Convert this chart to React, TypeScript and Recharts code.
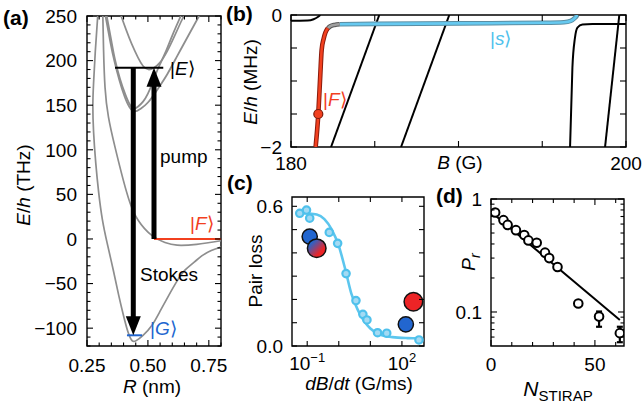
import React from 'react';
import {
  LineChart, ComposedChart, Line, Scatter, XAxis, YAxis,
  ReferenceLine, ReferenceDot, ReferenceArea, ErrorBar,
} from 'recharts';

const FONT = '"Liberation Sans", Arial, Helvetica, sans-serif';
const FS = 19;
const GRAY = '#8e8e8e';
const RED = '#f2401f';
const CYAN = '#4fc1ec';
const BLUE = '#2266cf';

type P = [number, number];
type Lab = [number, React.ReactNode];
const pts = (a: P[]) => a.map(([x, y]) => ({ x, y }));

// ---- (a) potential curves, R (nm) vs E/h (THz)
const curveX: P[] = [
  [0.294, 250], [0.284, 210], [0.277, 175], [0.274, 150], [0.277, 120], [0.286, 85],
  [0.298, 52], [0.313, 22], [0.333, -5], [0.358, -35], [0.38, -63], [0.4, -86],
  [0.418, -104], [0.435, -114], [0.452, -114], [0.48, -108], [0.516, -97], [0.55, -81],
  [0.584, -64], [0.62, -47], [0.652, -35], [0.69, -26], [0.721, -19], [0.76, -13], [0.8, -9],
];
const curveA3: P[] = [
  [0.315, 250], [0.318, 212], [0.324, 170], [0.338, 137], [0.365, 103], [0.399, 66],
  [0.426, 41], [0.46, 21], [0.516, 4], [0.57, -4], [0.62, -7], [0.7, -6], [0.8, -2],
];
const curveB1: P[] = [
  [0.331, 250], [0.35, 222], [0.365, 201], [0.385, 180], [0.406, 163], [0.425, 151],
  [0.442, 146], [0.46, 148.5], [0.48, 154], [0.5, 163], [0.52, 176], [0.54, 190],
  [0.57, 208], [0.6, 228], [0.635, 250],
];
const curveB2: P[] = [
  [0.326, 250], [0.345, 222], [0.362, 200], [0.383, 178], [0.404, 160], [0.424, 148],
  [0.446, 143], [0.47, 146], [0.5, 153], [0.54, 168], [0.58, 185], [0.62, 205],
  [0.66, 225], [0.71, 250],
];
const curveE: P[] = [
  [0.39, 250], [0.41, 235], [0.433, 219], [0.46, 203], [0.48, 194], [0.502, 190],
  [0.525, 192], [0.55, 198], [0.58, 211], [0.61, 228], [0.635, 243], [0.648, 250],
];
const levelE = 192;
const levelF = 0;
const levelG = -108;
const levelERange = [0.365, 0.563];
const levelFRange = [0.525, 0.8];
const levelGRange = [0.414, 0.476];
const stokesR = 0.44;
const pumpR = 0.525;

const aXTicks = [0.25, 0.3, 0.35, 0.4, 0.45, 0.5, 0.55, 0.6, 0.65, 0.7, 0.75, 0.8];
const aXMajor = [0.25, 0.5, 0.75];
const aXLabels: Lab[] = [[0.25, '0.25'], [0.5, '0.50'], [0.75, '0.75']];
const aYTicks = [
  -120, -110, -100, -90, -80, -70, -60, -50, -40, -30, -20, -10, 0, 10, 20, 30, 40, 50,
  60, 70, 80, 90, 100, 110, 120, 130, 140, 150, 160, 170, 180, 190, 200, 210, 220, 230, 240, 250,
];
const aYMajor = [-100, -50, 0, 50, 100, 150, 200, 250];
const aYLabels: Lab[] = [
  [-100, '\u2212100'], [-50, '\u221250'], [0, '0'], [50, '50'],
  [100, '100'], [150, '150'], [200, '200'], [250, '250'],
];

// ---- (b) levels near threshold, B (G) vs E/h (MHz)
const bTopLeft: P[] = [[180, -0.086], [181.0, -0.085], [181.35, -0.065], [181.6, -0.03], [181.75, 0]];
const bRedF: P[] = [
  [181.47, -2], [181.63, -1.5], [181.75, -0.9], [181.83, -0.53], [181.95, -0.36],
  [182.05, -0.27], [182.2, -0.2],
];
const bGrayMid: P[] = [[182.2, -0.2], [182.35, -0.17], [182.6, -0.15], [182.9, -0.14]];
const bBlueS: P[] = [
  [182.9, -0.14], [185, -0.135], [190, -0.127], [195, -0.118], [196.3, -0.11],
  [196.7, -0.09], [196.95, -0.045], [197.1, 0],
];
const bDiag1: P[] = [[182.39, -2], [185.27, 0]];
const bDiag2: P[] = [[186.57, -2], [189.45, 0]];
const bRightBend: P[] = [
  [196.66, -2], [196.8, -0.8], [196.95, -0.35], [197.1, -0.19], [197.4, -0.145],
  [198, -0.138], [200, -0.136],
];
const bRightSteep: P[] = [[198.75, -2], [199.6, 0]];
const bDotF = { x: 181.63, y: -1.5 };

const bXTicks = [180, 185, 190, 195, 200];
const bXLabels: Lab[] = [[180, '180'], [200, '200']];
const bYTicks = [0, -0.5, -1, -1.5, -2];
const bYLabels: Lab[] = [[0, '0'], [-2, '\u22122']];

// ---- (c) pair loss vs ramp rate
const cRate = [0.058, 0.095, 0.12, 0.5, 0.92, 1.7, 3.5, 5.8, 7.8, 16.9, 33, 347];
const cLoss = [0.57, 0.584, 0.549, 0.488, 0.441, 0.311, 0.195, 0.136, 0.112, 0.057, 0.055, 0.026];
const cFitRate = [0.045, 0.1, 0.2, 0.35, 0.6, 1.0, 1.6, 2.5, 4, 6.5, 10, 20, 50, 150, 380];
const cFitLoss = [0.572, 0.57, 0.565, 0.545, 0.5, 0.43, 0.33, 0.225, 0.155, 0.105, 0.075, 0.049, 0.038, 0.034, 0.033];
const bigRate = [0.12, 0.2, 133, 231];
const bigLoss = [0.47, 0.42, 0.093, 0.19];
const bigKind = ['blue', 'mix', 'blue', 'red'];

const cXTicks = [0.1, 1, 10, 100];
const sup = (e: string) => (
  <>10<tspan dy={-8} fontSize={13}>{e}</tspan></>
);
const cXLabels: Lab[] = [[0.1, sup('\u22121')], [100, sup('2')]];
const cYTicks = [0, 0.1, 0.2, 0.3, 0.4, 0.5, 0.6];
const cYLabels: Lab[] = [[0, '0.0'], [0.6, '0.6']];

// ---- (d) survival vs number of STIRAP transfers
const nStirap = [2, 6, 8, 12, 16, 18, 22, 26, 28, 32, 42, 52, 62];
const pr = [0.76, 0.65, 0.59, 0.53, 0.48, 0.43, 0.41, 0.335, 0.3, 0.25, 0.119, 0.091, 0.065];
const prErrLo = [0, 0, 0, 0, 0, 0, 0, 0, 0, 0, 0, 0.017, 0.011];
const prErrHi = [0, 0, 0, 0, 0, 0, 0, 0, 0, 0, 0, 0.01, 0.009];
const fitN = [0, 62];
const fitPr = [0.77, 0.085];

const dXTicks = [0, 10, 20, 30, 40, 50, 60];
const dXLabels: Lab[] = [[0, '0'], [50, '50']];
const dYTicks = [0.06, 0.07, 0.08, 0.09, 0.1, 0.2, 0.3, 0.4, 0.5, 0.6, 0.7, 0.8, 0.9, 1];
const dYLabels: Lab[] = [[0.1, '0.1'], [1, '1']];

// ---- tick helpers: inward ticks mirrored on the opposite side of the frame
const close = (a: number, b: number) => Math.abs(a - b) <= 1e-6 * Math.max(1, Math.abs(b));

const xTick = (span: number, majors: number[], labels: Lab[], big: number, small: number, dy: number) =>
  (p: any) => {
    const v = p.payload.value;
    const len = majors.some((m) => close(m, v)) ? big : small;
    const lab = labels.find(([k]) => close(k, v));
    return (
      <g>
        <line x1={p.x} x2={p.x} y1={p.y} y2={p.y - len} stroke="#000" strokeWidth={1.1} />
        <line x1={p.x} x2={p.x} y1={p.y - span} y2={p.y - span + len} stroke="#000" strokeWidth={1.1} />
        {lab && (
          <text x={p.x} y={p.y + dy} textAnchor="middle" fontFamily={FONT} fontSize={FS} fill="#000">
            {lab[1]}
          </text>
        )}
      </g>
    );
  };

const yTick = (span: number, majors: number[], labels: Lab[], big: number, small: number, dx: number) =>
  (p: any) => {
    const v = p.payload.value;
    const len = majors.some((m) => close(m, v)) ? big : small;
    const lab = labels.find(([k]) => close(k, v));
    return (
      <g>
        <line x1={p.x} x2={p.x + len} y1={p.y} y2={p.y} stroke="#000" strokeWidth={1.1} />
        <line x1={p.x + span} x2={p.x + span - len} y1={p.y} y2={p.y} stroke="#000" strokeWidth={1.1} />
        {lab && (
          <text x={p.x - dx} y={p.y} dy="0.36em" textAnchor="end" fontFamily={FONT} fontSize={FS} fill="#000">
            {lab[1]}
          </text>
        )}
      </g>
    );
  };

const axisBase = {
  type: 'number' as const,
  allowDataOverflow: true,
  interval: 0 as const,
  tickLine: false,
  axisLine: false,
  tickSize: 0,
  tickMargin: 0,
};

const headDown = (p: any) => (
  <polygon points={`${p.cx - 7.5},${p.cy - 19} ${p.cx + 7.5},${p.cy - 19} ${p.cx},${p.cy}`} fill="#000" />
);
const headUp = (p: any) => (
  <polygon points={`${p.cx - 7.5},${p.cy + 19} ${p.cx + 7.5},${p.cy + 19} ${p.cx},${p.cy}`} fill="#000" />
);

function PanelA() {
  const w = 221 - 87;
  const h = 346 - 16;
  const gray = (d: P[], sw = 1.7) => (
    <Line data={pts(d)} dataKey="y" type="natural" stroke={GRAY} strokeWidth={sw} dot={false} isAnimationActive={false} />
  );
  return (
    <div style={{ position: 'absolute', left: 0, top: 0 }}>
      <LineChart width={230} height={403} margin={{ top: 16, right: 9, bottom: 27, left: 27 }}>
        <XAxis {...axisBase} dataKey="x" domain={[0.25, 0.8]} ticks={aXTicks} height={30}
          tick={xTick(h, aXMajor, aXLabels, 6, 3.5, 26)} />
        <YAxis {...axisBase} dataKey="y" domain={[-120, 250]} ticks={aYTicks} width={60}
          tick={yTick(w, aYMajor, aYLabels, 6, 3.5, 10)} />
        <ReferenceArea x1={0.25} x2={0.8} y1={-120} y2={250} fill="none" stroke="#000" strokeWidth={1.4} ifOverflow="visible" />
        {gray(curveX)}
        {gray(curveA3)}
        {gray(curveE)}
        {gray(curveB2, 1.8)}
        {gray(curveB1, 1.8)}
        <ReferenceLine segment={[{ x: levelFRange[0], y: levelF }, { x: levelFRange[1], y: levelF }]} stroke={RED} strokeWidth={2} ifOverflow="visible" />
        <ReferenceLine segment={[{ x: levelGRange[0], y: levelG }, { x: levelGRange[1], y: levelG }]} stroke={BLUE} strokeWidth={2} ifOverflow="visible" />
        <ReferenceLine segment={[{ x: levelERange[0], y: levelE }, { x: levelERange[1], y: levelE }]} stroke="#000" strokeWidth={2} ifOverflow="visible" />
        <ReferenceLine segment={[{ x: stokesR, y: levelE }, { x: stokesR, y: levelG + 14 }]} stroke="#000" strokeWidth={5} ifOverflow="visible" />
        <ReferenceDot x={stokesR} y={levelG} r={1} shape={headDown} ifOverflow="visible" />
        <ReferenceLine segment={[{ x: pumpR, y: levelF }, { x: pumpR, y: levelE - 14 }]} stroke="#000" strokeWidth={5} ifOverflow="visible" />
        <ReferenceDot x={pumpR} y={levelE} r={1} shape={headUp} ifOverflow="visible" />
      </LineChart>
    </div>
  );
}

function PanelB() {
  const w = 626 - 291;
  const h = 147 - 15;
  const black = (d: P[]) => (
    <Line data={pts(d)} dataKey="y" type="monotone" stroke="#000" strokeWidth={2} dot={false} isAnimationActive={false} />
  );
  const thick = (d: P[], edge: string, core: string) => [
    <Line key="e" data={pts(d)} dataKey="y" type="monotone" stroke={edge} strokeWidth={4.6} dot={false} isAnimationActive={false} />,
    <Line key="c" data={pts(d)} dataKey="y" type="monotone" stroke={core} strokeWidth={2.6} dot={false} isAnimationActive={false} />,
  ];
  return (
    <div style={{ position: 'absolute', left: 230, top: 0 }}>
      <LineChart width={412} height={180} margin={{ top: 15, right: 16, bottom: 8, left: 11 }}>
        <XAxis {...axisBase} dataKey="x" domain={[180, 200]} ticks={bXTicks} height={25}
          tick={xTick(h, [], bXLabels, 6, 6, 23)} />
        <YAxis {...axisBase} dataKey="y" domain={[-2, 0]} ticks={bYTicks} width={50}
          tick={yTick(w, [], bYLabels, 6, 6, 9)} />
        {black(bTopLeft)}
        {black(bDiag1)}
        {black(bDiag2)}
        {black(bRightBend)}
        {black(bRightSteep)}
        {thick(bBlueS, '#5a8ea3', '#66c9f0')}
        {thick(bGrayMid, '#555555', '#a0a0a0')}
        {thick(bRedF, '#8a1b0c', RED)}
        <ReferenceDot x={bDotF.x} y={bDotF.y} r={4.5} fill={RED} stroke="#7a1a0a" strokeWidth={1.2} ifOverflow="visible" />
        <ReferenceArea x1={180} x2={200} y1={-2} y2={0} fill="none" stroke="#000" strokeWidth={1.4} ifOverflow="visible" />
      </LineChart>
    </div>
  );
}

const bigStyle: Record<string, { fill: string; r: number }> = {
  blue: { fill: BLUE, r: 7.6 },
  mix: { fill: 'url(#mixGrad)', r: 9.3 },
  red: { fill: '#ec2426', r: 9.3 },
};

function PanelC() {
  const w = 424 - 292;
  const h = 346 - 197;
  const pointData = cRate.map((x, i) => ({ x, y: cLoss[i] }));
  const fitData = cFitRate.map((x, i) => ({ x, y: cFitLoss[i] }));
  const bigData = bigRate.map((x, i) => ({ x, y: bigLoss[i], kind: bigKind[i] }));
  return (
    <div style={{ position: 'absolute', left: 230, top: 180 }}>
      <ComposedChart width={210} height={223} margin={{ top: 17, right: 16, bottom: 27, left: 12 }}>
        <defs>
          <linearGradient id="mixGrad" x1="0" y1="0" x2="1" y2="1">
            <stop offset="0.2" stopColor={BLUE} />
            <stop offset="0.7" stopColor="#ec2426" />
          </linearGradient>
        </defs>
        <XAxis {...axisBase} dataKey="x" scale="log" domain={[0.033, 500]} ticks={cXTicks} height={30}
          tick={xTick(h, [], cXLabels, 5, 5, 24)} />
        <YAxis {...axisBase} dataKey="y" domain={[0, 0.64]} ticks={cYTicks} width={50}
          tick={yTick(w, [], cYLabels, 5, 5, 9)} />
        <Line data={fitData} dataKey="y" type="monotone" stroke="#5cc6ee" strokeWidth={2.6} dot={false} isAnimationActive={false} />
        <Scatter data={pointData} dataKey="y" isAnimationActive={false}
          shape={(p: any) => <circle cx={p.cx} cy={p.cy} r={3.7} fill="#a3daf3" stroke={CYAN} strokeWidth={2.2} />} />
        <Scatter data={bigData} dataKey="y" isAnimationActive={false}
          shape={(p: any) => {
            const s = bigStyle[p.payload.kind];
            return <circle cx={p.cx} cy={p.cy} r={s.r} fill={s.fill} stroke="#111" strokeWidth={1.5} />;
          }} />
        <ReferenceArea x1={0.033} x2={500} y1={0} y2={0.64} fill="none" stroke="#000" strokeWidth={1.4} ifOverflow="visible" />
      </ComposedChart>
    </div>
  );
}

function PanelD() {
  const w = 624 - 491;
  const h = 346 - 199;
  const all = nStirap.map((x, i) => ({ x, y: pr[i], err: [prErrLo[i], prErrHi[i]] }));
  const withErr = all.filter((d) => d.err[0] > 0);
  const noErr = all.filter((d) => d.err[0] === 0);
  const fit = fitN.map((x, i) => ({ x, y: fitPr[i] }));
  const ring = (p: any) => <circle cx={p.cx} cy={p.cy} r={4.3} fill="#fff" stroke="#000" strokeWidth={2} />;
  return (
    <div style={{ position: 'absolute', left: 440, top: 180 }}>
      <ComposedChart width={202} height={223} margin={{ top: 19, right: 18, bottom: 27, left: 11 }}>
        <XAxis {...axisBase} dataKey="x" domain={[0, 64]} ticks={dXTicks} height={30}
          tick={xTick(h, [0, 50], dXLabels, 6, 4, 25)} />
        <YAxis {...axisBase} dataKey="y" scale="log" domain={[0.05, 1]} ticks={dYTicks} width={40}
          tick={yTick(w, [0.1, 1], dYLabels, 6, 3.5, 9)} />
        <Line data={fit} dataKey="y" type="linear" stroke="#000" strokeWidth={2} dot={false} isAnimationActive={false} />
        <Scatter data={withErr} dataKey="y" isAnimationActive={false} shape={ring}>
          <ErrorBar dataKey="err" direction="y" width={3} stroke="#000" strokeWidth={2.2} />
        </Scatter>
        <Scatter data={noErr} dataKey="y" isAnimationActive={false} shape={ring} />
        <ReferenceArea x1={0} x2={64} y1={0.05} y2={1} fill="none" stroke="#000" strokeWidth={1.4} ifOverflow="visible" />
      </ComposedChart>
    </div>
  );
}

const it = (s: string) => <tspan fontStyle="italic">{s}</tspan>;

function Overlay() {
  return (
    <svg width={642} height={403} style={{ position: 'absolute', left: 0, top: 0, pointerEvents: 'none' }}
      fontFamily={FONT} fontSize={FS}>
      <text x={3} y={25} fontWeight="bold" fontSize={21}>(a)</text>
      <text x={226} y={21} fontWeight="bold" fontSize={21}>(b)</text>
      <text x={227} y={190} fontWeight="bold" fontSize={21}>(c)</text>
      <text x={436} y={203} fontWeight="bold" fontSize={21}>(d)</text>

      <text transform="translate(23,185) rotate(-90)" textAnchor="middle" dy="0.35em">{it('E')}/{it('h')} (THz)</text>
      <text x={152} y={393} textAnchor="middle">{it('R')} (nm)</text>
      <text x={170} y={75}>|{it('E')}⟩</text>
      <text x={160} y={163}>pump</text>
      <text x={140} y={281}>Stokes</text>
      <text x={190} y={230} fill={RED}>|{it('F')}⟩</text>
      <text x={150} y={335} fill={BLUE}>|{it('G')}⟩</text>

      <text transform="translate(250,82) rotate(-90)" textAnchor="middle" dy="0.35em">{it('E')}/{it('h')} (MHz)</text>
      <text x={460} y={169} textAnchor="middle">{it('B')} (G)</text>
      <text x={323} y={106} fill={RED}>|{it('F')}⟩</text>
      <text x={490} y={45} fill={CYAN}>|{it('s')}⟩</text>

      <text transform="translate(255,271) rotate(-90)" textAnchor="middle" dy="0.35em">Pair loss</text>
      <text x={359} y={390} textAnchor="middle">{it('dB')}/{it('dt')} (G/ms)</text>

      <text transform="translate(468,262) rotate(-90)" textAnchor="middle" dy="0.35em">
        {it('P')}<tspan dy={5} fontSize={14} fontStyle="italic">r</tspan>
      </text>
      <text x={558} y={396} textAnchor="middle">
        <tspan fontStyle="italic" fontSize={21}>N</tspan><tspan dy={5} fontSize={15}>STIRAP</tspan>
      </text>
    </svg>
  );
}

export default function App() {
  return (
    <div style={{ position: 'absolute', left: 0, top: 0, width: 642, height: 403, background: '#fff', fontFamily: FONT }}>
      <PanelA />
      <PanelB />
      <PanelC />
      <PanelD />
      <Overlay />
    </div>
  );
}
